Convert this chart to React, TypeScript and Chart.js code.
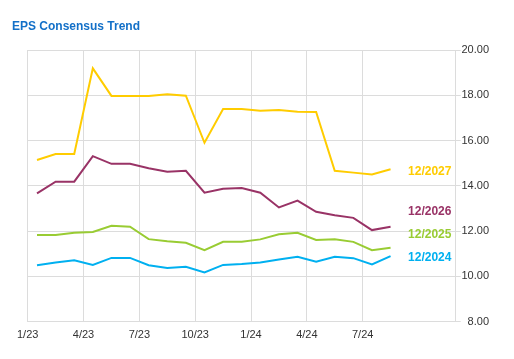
import { useEffect, useRef } from "react";
import { Chart, registerables } from "chart.js";

Chart.register(...registerables);

// Monthly periods with data (Jan 2023 .. Aug 2024)
const periods = [
  "Jan 23", "Feb 23", "Mar 23", "Apr 23", "May 23", "Jun 23", "Jul 23", "Aug 23", "Sep 23", "Oct 23",
  "Nov 23", "Dec 23", "Jan 24", "Feb 24", "Mar 24", "Apr 24", "May 24", "Jun 24", "Jul 24", "Aug 24",
];

const tickValues = [0, 3, 6, 9, 12, 15, 18];
const tickLabels = ["1/23", "4/23", "7/23", "10/23", "1/24", "4/24", "7/24"];

const seriesNames = ["12/2027", "12/2026", "12/2025", "12/2024"];
const seriesColors = ["#FFCC00", "#993366", "#99CC33", "#00B0F0"];

const fy2027 = [15.14, 15.4, 15.4, 19.19, 17.97, 17.97, 17.97, 18.04, 17.98, 15.9, 17.39, 17.39, 17.32, 17.35, 17.27, 17.26, 14.66, 14.58, 14.5, 14.73];
const fy2026 = [13.66, 14.18, 14.18, 15.31, 14.97, 14.97, 14.77, 14.62, 14.66, 13.69, 13.87, 13.9, 13.69, 13.04, 13.34, 12.85, 12.7, 12.58, 12.04, 12.19];
const fy2025 = [11.82, 11.82, 11.92, 11.96, 12.23, 12.19, 11.64, 11.55, 11.48, 11.15, 11.52, 11.52, 11.63, 11.86, 11.92, 11.6, 11.64, 11.52, 11.15, 11.26];
const fy2024 = [10.49, 10.61, 10.71, 10.5, 10.81, 10.81, 10.49, 10.37, 10.42, 10.17, 10.5, 10.54, 10.61, 10.74, 10.86, 10.64, 10.86, 10.8, 10.52, 10.89];

// Values at which the end labels sit (adjusted to avoid overlap)
const labelValues = [14.62, 12.85, 11.83, 10.83];

const allSeries = [fy2027, fy2026, fy2025, fy2024];

const FONT = "Arial, 'Liberation Sans', sans-serif";
const GRID = "#dcdcdc";

export default function App() {
  const ref = useRef<HTMLCanvasElement | null>(null);

  useEffect(() => {
    if (!ref.current) return;
    const endLabels = {
      id: "endLabels",
      afterDatasetsDraw(chart: any) {
        const ctx = chart.ctx;
        const xs = chart.scales.x;
        const ys = chart.scales.y;
        ctx.save();
        ctx.font = `bold 12px ${FONT}`;
        ctx.textAlign = "left";
        ctx.textBaseline = "middle";
        chart.data.datasets.forEach((ds: any, i: number) => {
          const last = ds.data[ds.data.length - 1];
          const x = xs.getPixelForValue(last.x) + 17.5;
          const y = ys.getPixelForValue(labelValues[i]);
          ctx.fillStyle = seriesColors[i];
          ctx.fillText(seriesNames[i], x, y);
        });
        ctx.restore();
      },
    };

    const chart = new Chart(ref.current, {
      type: "line",
      data: {
        datasets: allSeries.map((s, i) => ({
          label: seriesNames[i],
          data: s.map((v, j) => ({ x: periods.indexOf(periods[j]) + 0.5, y: v })),
          borderColor: seriesColors[i],
          backgroundColor: seriesColors[i],
          borderWidth: 2,
          pointRadius: 0,
          tension: 0,
          xAxisID: "x",
          yAxisID: "y",
        })),
      },
      options: {
        animation: false,
        responsive: false,
        layout: { padding: { left: 12, right: 25, top: 0, bottom: 0 } },
        plugins: {
          legend: { display: false },
          tooltip: { enabled: false },
          title: {
            display: true,
            text: "EPS Consensus Trend",
            align: "start",
            color: "#1370C8",
            font: { family: FONT, size: 12, weight: "bold" },
            padding: { top: 19.5, bottom: 16.1 },
          },
        },
        scales: {
          x: {
            type: "linear",
            min: 0,
            max: 23,
            afterBuildTicks: (s: any) => {
              s.ticks = tickValues.map((v) => ({ value: v }));
            },
            afterFit: (s: any) => {
              s.height = 37.5;
            },
            ticks: {
              autoSkip: false,
              maxRotation: 0,
              padding: 7,
              color: "#333",
              font: { family: FONT, size: 11 },
              callback: (v: any) => tickLabels[tickValues.indexOf(v)] ?? "",
            },
            grid: { color: GRID, drawTicks: false },
            border: { color: GRID },
          },
          yl: {
            type: "linear",
            position: "left",
            display: true,
            ticks: { display: false },
            grid: { display: false },
            border: { display: false },
            afterFit: (s: any) => {
              s.width = 15.7;
            },
          },
          y: {
            type: "linear",
            position: "right",
            min: 8,
            max: 20,
            afterFit: (s: any) => {
              s.width = 33.3;
            },
            ticks: {
              stepSize: 2,
              padding: 1,
              crossAlign: "far",
              color: "#333",
              font: { family: FONT, size: 11 },
              callback: (v: any) => Number(v).toFixed(2),
            },
            grid: { color: GRID, tickLength: 5 },
            border: { color: GRID },
          },
        },
      },
      plugins: [endLabels],
    } as any);
    return () => chart.destroy();
  }, []);

  return (
    <div style={{ position: "fixed", left: 0, top: 0, width: 514, height: 359, background: "#fff" }}>
      <canvas ref={ref} width={514} height={359} style={{ width: 514, height: 359 }} />
    </div>
  );
}
